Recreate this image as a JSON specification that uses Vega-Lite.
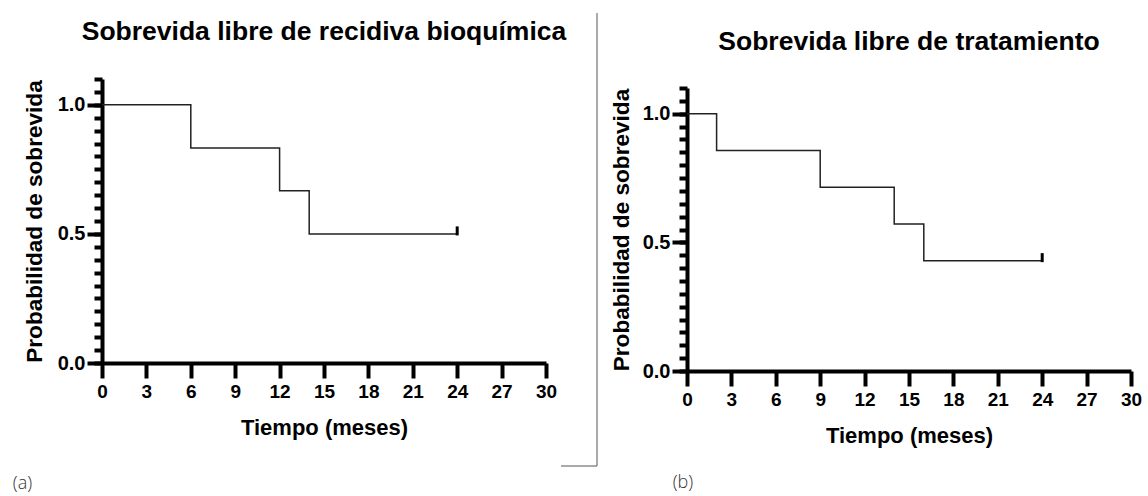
{
  "$schema": "https://vega.github.io/schema/vega-lite/v6.json",
  "background": "white",
  "padding": {"left": 12, "top": 12, "right": 5, "bottom": 6},
  "datasets": {
    "a": [
      {"tiempo": 0, "prob": 1.0, "censurado": false},
      {"tiempo": 6, "prob": 0.833, "censurado": false},
      {"tiempo": 12, "prob": 0.667, "censurado": false},
      {"tiempo": 14, "prob": 0.5, "censurado": false},
      {"tiempo": 24, "prob": 0.5, "censurado": true}
    ],
    "b": [
      {"tiempo": 0, "prob": 1.0, "censurado": false},
      {"tiempo": 2, "prob": 0.857, "censurado": false},
      {"tiempo": 9, "prob": 0.714, "censurado": false},
      {"tiempo": 14, "prob": 0.571, "censurado": false},
      {"tiempo": 16, "prob": 0.429, "censurado": false},
      {"tiempo": 24, "prob": 0.429, "censurado": true}
    ]
  },
  "spacing": 51,
  "bounds": "flush",
  "hconcat": [
    {
      "width": 444,
      "height": 284,
      "title": {"text": "Sobrevida libre de recidiva bioquímica", "anchor": "middle", "offset": 32, "font": "Liberation Sans", "fontSize": 26.5, "fontWeight": "bold", "color": "black"},
      "data": {"name": "a"},
      "resolve": {"axis": {"y": "independent"}},
      "layer": [
        {
          "mark": {"type": "line", "interpolate": "step-after", "color": "#222", "strokeWidth": 1.5, "clip": false},
          "encoding": {
            "x": {"field": "tiempo", "type": "quantitative", "scale": {"domain": [0, 30], "nice": false, "zero": false},
              "axis": {"values": [0, 3, 6, 9, 12, 15, 18, 21, 24, 27, 30], "tickSize": 15, "tickWidth": 4, "tickColor": "black", "domainWidth": 4, "domainColor": "black", "labelPadding": 4, "labelFont": "Liberation Sans", "labelFontSize": 19, "labelFontWeight": "bold", "labelColor": "black", "labelFlush": false, "labelOverlap": false, "title": "Tiempo (meses)", "titleFont": "Liberation Sans", "titleFontSize": 22, "titleFontWeight": "bold", "titleColor": "black", "titlePadding": 16, "grid": false}},
            "y": {"field": "prob", "type": "quantitative", "scale": {"domain": [0, 1.1], "nice": false, "zero": false},
              "axis": {"orient": "left", "values": [0, 0.5, 1], "format": ".1f", "tickSize": 15, "tickWidth": 4, "tickColor": "black", "domainWidth": 4, "domainColor": "black", "labelPadding": 2, "labelFont": "Liberation Sans", "labelFontSize": 20, "labelFontWeight": "bold", "labelColor": "black", "labelFlush": false, "labelOverlap": false, "title": "Probabilidad de sobrevida", "titleFont": "Liberation Sans", "titleFontSize": 22.6, "titleFontWeight": "bold", "titleColor": "black", "titlePadding": 11, "grid": false}}
          }
        },
        {
          "transform": [{"filter": "datum.censurado"}],
          "mark": {"type": "tick", "orient": "vertical", "size": 9, "thickness": 3, "color": "black", "yOffset": -3, "opacity": 1, "clip": false},
          "encoding": {
            "x": {"field": "tiempo", "type": "quantitative"},
            "y": {"field": "prob", "type": "quantitative",
              "axis": {"orient": "left", "values": [0, 0.05, 0.1, 0.15, 0.2, 0.25, 0.3, 0.35, 0.4, 0.45, 0.5, 0.55, 0.6, 0.65, 0.7, 0.75, 0.8, 0.85, 0.9, 0.95, 1.0, 1.05, 1.1], "labels": false, "tickSize": 8, "tickWidth": 4, "tickColor": "black", "domain": false, "title": null, "grid": false}}
          }
        },
        {
          "data": {"values": [{"etiqueta": "(a)"}]},
          "mark": {"type": "text", "align": "left", "baseline": "middle", "font": "Open Sans", "fontSize": 18, "fontWeight": 300, "color": "#333", "clip": false},
          "encoding": {
            "x": {"datum": -6.03, "type": "quantitative"},
            "y": {"datum": -0.468, "type": "quantitative", "axis": null},
            "text": {"field": "etiqueta"}
          }
        }
      ]
    },
    {
      "width": 39,
      "height": 284,
      "data": {"values": [{"id": 1}]},
      "layer": [
        {
          "mark": {"type": "rule", "color": "#555", "strokeWidth": 1, "clip": false},
          "encoding": {
            "x": {"datum": 0, "type": "quantitative", "scale": {"domain": [0, 1], "nice": false}, "axis": null},
            "y": {"datum": 1.3555, "type": "quantitative", "scale": {"domain": [0, 1.1], "nice": false}, "axis": null},
            "y2": {"datum": -0.399}
          }
        },
        {
          "mark": {"type": "rule", "color": "#555", "strokeWidth": 1, "clip": false},
          "encoding": {
            "x": {"datum": -0.923, "type": "quantitative", "axis": null},
            "x2": {"datum": 0},
            "y": {"datum": -0.399, "type": "quantitative", "axis": null}
          }
        }
      ]
    },
    {
      "width": 444,
      "height": 292,
      "title": {"text": "Sobrevida libre de tratamiento", "anchor": "middle", "offset": 24, "font": "Liberation Sans", "fontSize": 26.5, "fontWeight": "bold", "color": "black"},
      "data": {"name": "b"},
      "resolve": {"axis": {"y": "independent"}},
      "layer": [
        {
          "mark": {"type": "line", "interpolate": "step-after", "color": "#222", "strokeWidth": 1.5, "clip": false},
          "encoding": {
            "x": {"field": "tiempo", "type": "quantitative", "scale": {"domain": [0, 30], "nice": false, "zero": false},
              "axis": {"values": [0, 3, 6, 9, 12, 15, 18, 21, 24, 27, 30], "tickSize": 15, "tickWidth": 4, "tickColor": "black", "domainWidth": 4, "domainColor": "black", "labelPadding": 4, "labelFont": "Liberation Sans", "labelFontSize": 19, "labelFontWeight": "bold", "labelColor": "black", "labelFlush": false, "labelOverlap": false, "title": "Tiempo (meses)", "titleFont": "Liberation Sans", "titleFontSize": 22, "titleFontWeight": "bold", "titleColor": "black", "titlePadding": 16, "grid": false}},
            "y": {"field": "prob", "type": "quantitative", "scale": {"domain": [0, 1.1], "range": [292, 9], "nice": false, "zero": false},
              "axis": {"orient": "left", "values": [0, 0.5, 1], "format": ".1f", "tickSize": 15, "tickWidth": 4, "tickColor": "black", "domainWidth": 4, "domainColor": "black", "labelPadding": 2, "labelFont": "Liberation Sans", "labelFontSize": 20, "labelFontWeight": "bold", "labelColor": "black", "labelFlush": false, "labelOverlap": false, "title": "Probabilidad de sobrevida", "titleFont": "Liberation Sans", "titleFontSize": 22.6, "titleFontWeight": "bold", "titleColor": "black", "titlePadding": 9, "grid": false}}
          }
        },
        {
          "transform": [{"filter": "datum.censurado"}],
          "mark": {"type": "tick", "orient": "vertical", "size": 9, "thickness": 3, "color": "black", "yOffset": -3, "opacity": 1, "clip": false},
          "encoding": {
            "x": {"field": "tiempo", "type": "quantitative"},
            "y": {"field": "prob", "type": "quantitative",
              "axis": {"orient": "left", "values": [0, 0.05, 0.1, 0.15, 0.2, 0.25, 0.3, 0.35, 0.4, 0.45, 0.5, 0.55, 0.6, 0.65, 0.7, 0.75, 0.8, 0.85, 0.9, 0.95, 1.0, 1.05, 1.1], "labels": false, "tickSize": 8, "tickWidth": 4, "tickColor": "black", "domain": false, "title": null, "grid": false}}
          }
        },
        {
          "data": {"values": [{"etiqueta": "(b)"}]},
          "mark": {"type": "text", "align": "left", "baseline": "middle", "font": "Open Sans", "fontSize": 18, "fontWeight": 300, "color": "#333", "clip": false},
          "encoding": {
            "x": {"datum": -0.966, "type": "quantitative"},
            "y": {"datum": -0.435, "type": "quantitative", "axis": null},
            "text": {"field": "etiqueta"}
          }
        }
      ]
    }
  ],
  "config": {
    "view": {"stroke": null},
    "axis": {"grid": false},
    "font": "Liberation Sans"
  }
}
